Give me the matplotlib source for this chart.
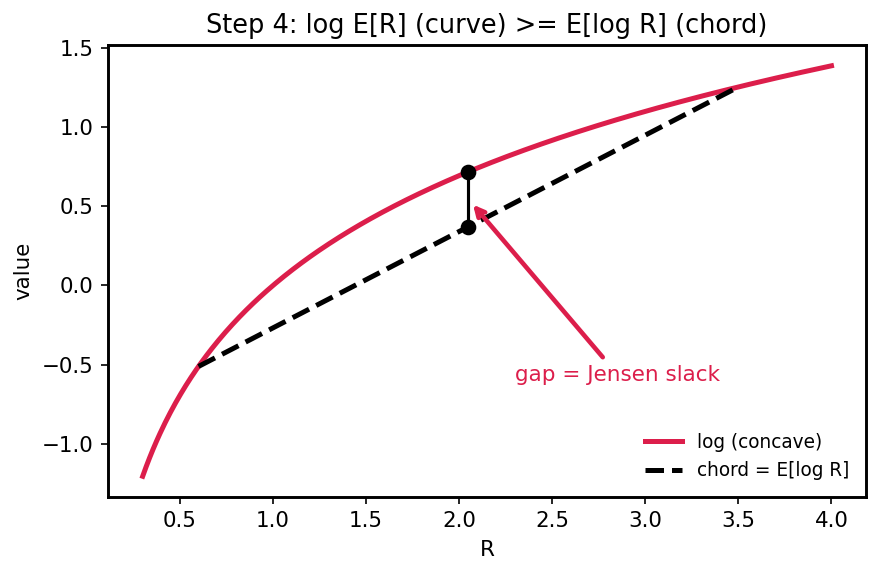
import numpy as np
import matplotlib
matplotlib.use("Agg")
import matplotlib.pyplot as plt

# curve domain and chord endpoints
r_grid = np.linspace(0.3, 4.0, 400)
chord_r = [0.6, 3.5]
mean_r = np.mean(chord_r)

curve_vals = np.log(r_grid)
chord_vals = np.log(chord_r)
log_of_mean = np.log(mean_r)
mean_of_log = np.mean(chord_vals)

crimson = "#dc1e4b"

plt.rcParams["font.size"] = 10.25
fig, ax = plt.subplots(figsize=(880 / 150, 573 / 150), dpi=150)
fig.subplots_adjust(left=0.123, right=0.984, top=0.921, bottom=0.133)
ax.plot(r_grid, curve_vals, color=crimson, lw=2.4, label="log (concave)")
ax.plot(chord_r, chord_vals, "k--", lw=2.4, label="chord = E[log R]")
ax.plot([mean_r, mean_r], [mean_of_log, log_of_mean], "k-o", lw=1.5, ms=6.5)
ax.annotate("gap = Jensen slack", xy=(2.06, 0.53), xytext=(2.3, -0.6),
            color=crimson, fontsize=10.3,
            arrowprops=dict(arrowstyle="->", color=crimson, lw=2.2))
for s in ax.spines.values():
    s.set_linewidth(1.4)
ax.set_xlabel("R")
ax.set_ylabel("value")
ax.set_title("Step 4: log E[R] (curve) >= E[log R] (chord)", fontsize=12.3)
ax.legend(loc="lower right", frameon=False, fontsize=8.9)
fig.savefig("out.png")
